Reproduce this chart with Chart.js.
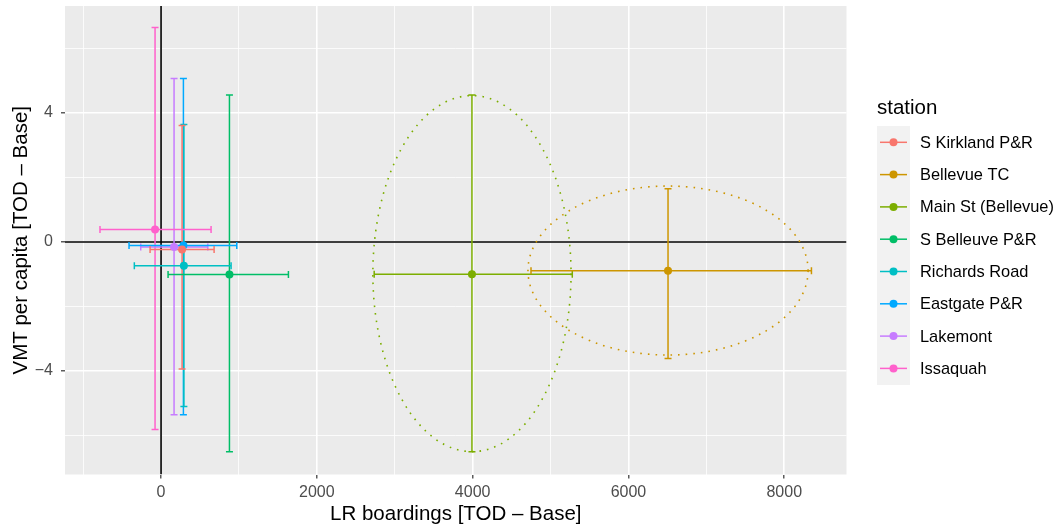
<!DOCTYPE html>
<html>
<head>
<meta charset="utf-8">
<script src="https://cdn.jsdelivr.net/npm/chart.js@4/dist/chart.umd.min.js"></script>
<style>
  html, body { margin: 0; padding: 0; background: #fff; }
  #wrap { width: 1061px; height: 529px; }
</style>
</head>
<body>
<div id="wrap"><canvas id="chart" width="1061" height="529"></canvas></div>
<script>
// stations, in legend order
const stations = ['S Kirkland P&R', 'Bellevue TC', 'Main St (Bellevue)', 'S Belleuve P&R',
                  'Richards Road', 'Eastgate P&R', 'Lakemont', 'Issaquah'];
const colors = ['#F8766D', '#CD9600', '#7CAE00', '#00BE67', '#00BFC4', '#00A9FF', '#C77CFF', '#FF61CC'];

// LR boardings [TOD - Base]: estimate and interval
const lrBoard = [270, 6508, 3991, 878, 293, 287, 167, -77];
const lrLow   = [-141, 4749, 2736, 90, -343, -411, -261, -784];
const lrHigh  = [681, 8349, 5279, 1635, 899, 972, 600, 642];

// VMT per capita [TOD - Base]: estimate and interval
const vmt     = [-0.23, -0.89, -1.0, -1.01, -0.74, -0.11, -0.155, 0.39];
const vmtLow  = [-3.94, -3.61, -6.5, -6.5, -5.1, -5.36, -5.36, -5.81];
const vmtHigh = [3.61, 1.65, 4.56, 4.56, 3.64, 5.07, 5.07, 6.65];

// dotted ellipses (station index, centre, half-widths)
const ellipseStation = [2, 1];
const ellipseCx = [3991, 6508];
const ellipseCy = [-0.98, -0.885];
const ellipseRx = [1272, 1798];
const ellipseRy = [5.52, 2.62];

// axes
const xMin = -1233, xMax = 8799;
const yMin = -7.209, yMax = 7.318;
const xGrid = [-1000, 0, 1000, 2000, 3000, 4000, 5000, 6000, 7000, 8000];
const xLabels = [0, 2000, 4000, 6000, 8000];
const yGrid = [-6, -4, -2, 0, 2, 4, 6];
const yLabels = [-4, 0, 4];

const FONT = '"Liberation Sans", Arial, Helvetica, sans-serif';
Chart.defaults.font.family = FONT;

const fmt = v => v < 0 ? '\u2212' + Math.abs(v) : String(v);

const panelBg = {
  id: 'panelBg',
  beforeDraw(chart) {
    const { ctx, chartArea: a } = chart;
    ctx.save();
    ctx.fillStyle = '#EBEBEB';
    ctx.fillRect(a.left, a.top, a.right - a.left, a.bottom - a.top);
    ctx.restore();
  }
};

// zero lines, error bars and ellipses, under the points
const errorBars = {
  id: 'errorBars',
  beforeDatasetsDraw(chart) {
    const { ctx, chartArea: a } = chart;
    const xs = chart.scales.x, ys = chart.scales.y;
    ctx.save();
    ctx.beginPath();
    ctx.rect(a.left, a.top, a.right - a.left, a.bottom - a.top);
    ctx.clip();

    ctx.strokeStyle = '#000';
    ctx.lineWidth = 1.6;
    ctx.beginPath();
    const y0 = ys.getPixelForValue(0), x0 = xs.getPixelForValue(0);
    ctx.moveTo(a.left, y0); ctx.lineTo(a.right, y0);
    ctx.moveTo(x0, a.top); ctx.lineTo(x0, a.bottom);
    ctx.stroke();

    const cap = 3.5;
    ctx.lineWidth = 1.5;
    ctx.lineCap = 'butt';
    for (let i = stations.length - 1; i >= 0; i--) {
      const px = xs.getPixelForValue(lrBoard[i]);
      const top = ys.getPixelForValue(vmtHigh[i]), bot = ys.getPixelForValue(vmtLow[i]);
      ctx.strokeStyle = colors[i];
      ctx.beginPath();
      ctx.moveTo(px, top); ctx.lineTo(px, bot);
      ctx.moveTo(px - cap, top); ctx.lineTo(px + cap, top);
      ctx.moveTo(px - cap, bot); ctx.lineTo(px + cap, bot);
      ctx.stroke();
    }
    for (let i = stations.length - 1; i >= 0; i--) {
      const py = ys.getPixelForValue(vmt[i]);
      const l = xs.getPixelForValue(lrLow[i]), r = xs.getPixelForValue(lrHigh[i]);
      ctx.strokeStyle = colors[i];
      ctx.beginPath();
      ctx.moveTo(l, py); ctx.lineTo(r, py);
      ctx.moveTo(l, py - cap); ctx.lineTo(l, py + cap);
      ctx.moveTo(r, py - cap); ctx.lineTo(r, py + cap);
      ctx.stroke();
    }

    ctx.lineWidth = 1.6;
    ctx.setLineDash([1.6, 6]);
    ellipseStation.forEach((s, k) => {
      const cx = xs.getPixelForValue(ellipseCx[k]);
      const cy = ys.getPixelForValue(ellipseCy[k]);
      const rx = Math.abs(xs.getPixelForValue(ellipseCx[k] + ellipseRx[k]) - cx);
      const ry = Math.abs(ys.getPixelForValue(ellipseCy[k] + ellipseRy[k]) - cy);
      ctx.strokeStyle = colors[s];
      ctx.beginPath();
      ctx.ellipse(cx, cy, rx, ry, 0, 0, Math.PI * 2);
      ctx.stroke();
    });
    ctx.restore();
  }
};

// ggplot-style legend on the right
const sideLegend = {
  id: 'sideLegend',
  afterDraw(chart) {
    const ctx = chart.ctx;
    ctx.save();
    ctx.fillStyle = '#000';
    ctx.font = '20.5px ' + FONT;
    ctx.textBaseline = 'alphabetic';
    ctx.textAlign = 'left';
    ctx.fillText('station', 877, 114);

    ctx.fillStyle = '#F2F2F2';
    ctx.fillRect(877, 126, 33, 259);

    ctx.font = '16.4px ' + FONT;
    ctx.textBaseline = 'middle';
    stations.forEach((name, i) => {
      const y = 142.3 + i * 32.3;
      ctx.strokeStyle = colors[i];
      ctx.lineWidth = 1.5;
      ctx.beginPath();
      ctx.moveTo(880, y); ctx.lineTo(907, y);
      ctx.stroke();
      ctx.fillStyle = colors[i];
      ctx.beginPath();
      ctx.arc(893.5, y, 4, 0, Math.PI * 2);
      ctx.fill();
      ctx.fillStyle = '#000';
      ctx.fillText(name, 920, y + 1);
    });
    ctx.restore();
  }
};

const datasets = stations.map((name, i) => ({
  label: name,
  data: [{ x: lrBoard[i], y: vmt[i] }],
  backgroundColor: colors[i],
  borderWidth: 0,
  pointRadius: 4,
  pointHoverRadius: 4
}));

new Chart(document.getElementById('chart').getContext('2d'), {
  type: 'scatter',
  data: { datasets: datasets },
  plugins: [panelBg, errorBars, sideLegend],
  options: {
    responsive: false,
    animation: false,
    events: [],
    layout: { padding: { top: 6, right: 214.5, bottom: 0, left: 0 } },
    plugins: { legend: { display: false }, tooltip: { enabled: false } },
    scales: {
      x: {
        type: 'linear',
        min: xMin,
        max: xMax,
        afterBuildTicks: axis => { axis.ticks = xGrid.map(v => ({ value: v })); },
        afterFit: axis => {
          axis.height = 54.5;
          axis.paddingLeft = 0; axis.paddingRight = 0;
        },
        border: { display: false },
        grid: {
          color: '#FFFFFF',
          lineWidth: c => (c.tick && xLabels.includes(c.tick.value)) ? 1.6 : 0.8,
          tickLength: 4,
          tickWidth: 1.2,
          tickColor: c => (c.tick && xLabels.includes(c.tick.value)) ? '#333333' : 'rgba(0,0,0,0)'
        },
        ticks: {
          autoSkip: false,
          maxRotation: 0,
          padding: 4,
          color: '#4D4D4D',
          font: { size: 16 },
          callback: v => xLabels.includes(v) ? fmt(v) : ''
        },
        title: {
          display: true,
          text: 'LR boardings [TOD \u2013 Base]',
          color: '#000',
          font: { size: 20.5 },
          padding: { top: 0, bottom: 2 }
        }
      },
      y: {
        type: 'linear',
        min: yMin,
        max: yMax,
        afterBuildTicks: axis => { axis.ticks = yGrid.map(v => ({ value: v })); },
        afterFit: axis => {
          axis.width = 65;
          axis.paddingTop = 0; axis.paddingBottom = 0;
        },
        border: { display: false },
        grid: {
          color: '#FFFFFF',
          lineWidth: c => (c.tick && yLabels.includes(c.tick.value)) ? 1.6 : 0.8,
          tickLength: 4,
          tickWidth: 1.2,
          tickColor: c => (c.tick && yLabels.includes(c.tick.value)) ? '#333333' : 'rgba(0,0,0,0)'
        },
        ticks: {
          autoSkip: false,
          padding: 8,
          color: '#4D4D4D',
          font: { size: 16 },
          callback: v => yLabels.includes(v) ? fmt(v) : ''
        },
        title: {
          display: true,
          text: 'VMT per capita [TOD \u2013 Base]',
          color: '#000',
          font: { size: 20.5 },
          padding: { top: 9, bottom: 0 }
        }
      }
    }
  }
});
</script>
</body>
</html>
